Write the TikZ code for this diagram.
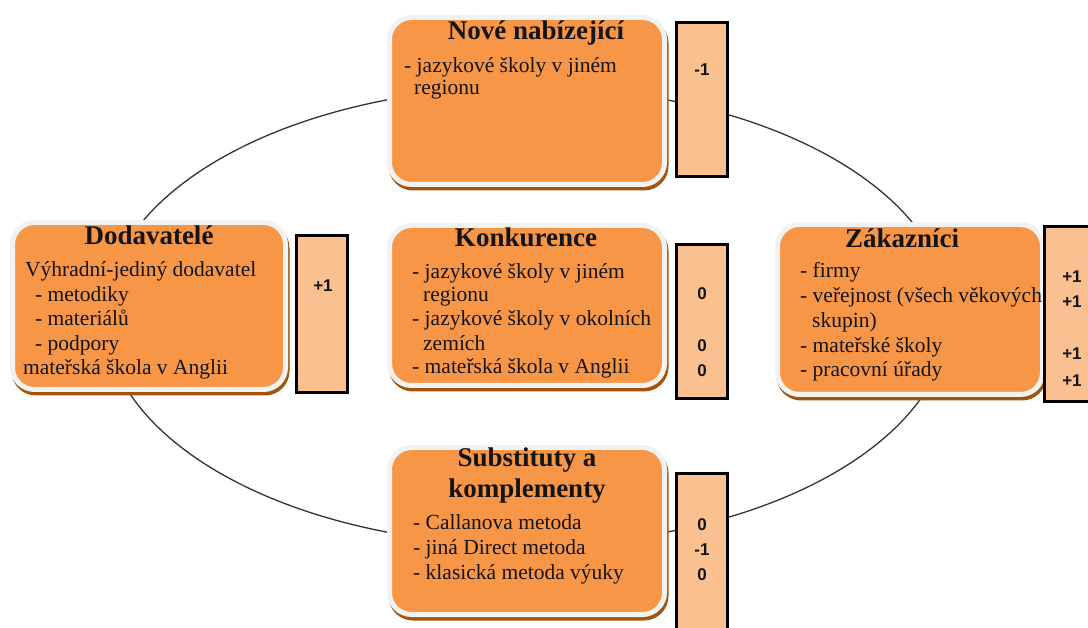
\documentclass[tikz,border=0pt]{standalone}
\usepackage{fontspec}
\setmainfont{Liberation Serif}
\newfontfamily\scorefont{Liberation Sans}

\definecolor{forceorange}{HTML}{F79646}
\definecolor{scorefill}{HTML}{FAC090}
\definecolor{rimgray}{HTML}{F2F2F2}
\definecolor{shadowbrown}{HTML}{A3540C}
\definecolor{inkdark}{HTML}{141414}

% multi-line text nodes below are anchored at the baseline of their last line
\tikzset{
  forcebox/.style={rectangle, rounded corners=22pt, fill=forceorange, draw=rimgray,
    line width=5pt, inner sep=0pt,
    preaction={fill=shadowbrown, draw=shadowbrown, line width=5pt,
      transform canvas={xshift=1.5pt, yshift=-3.5pt}}},
  scorebox/.style={rectangle, fill=scorefill, draw=black, line width=3pt, inner sep=0pt},
  forcetitle/.style={font=\fontsize{27}{31}\selectfont\bfseries, text=inkdark,
    inner sep=0pt, anchor=base, align=center},
  forcebody/.style={font=\fontsize{21.5}{24.5}\selectfont, text=inkdark,
    inner sep=0pt, anchor=base west, align=left},
  scoreval/.style={font=\scorefont\bfseries\fontsize{17}{17}\selectfont,
    text=inkdark, inner sep=0pt, anchor=base},
  ring/.style={draw=black!80, line width=1.3pt},
}

\begin{document}
\begin{tikzpicture}[x=1pt, y=-1pt]
  \clip (0,0) rectangle (1088,628);
  \fill[white] (0,0) rectangle (1088,628);

  % ring linking the five forces
  \draw[ring] (527,316) ellipse [x radius=422pt, y radius=229pt];

  % force boxes
  \node[forcebox, minimum width=275pt, minimum height=167pt] (newbox)  at (527,101)   {};
  \node[forcebox, minimum width=273pt, minimum height=167pt] (supbox)  at (149,306)   {};
  \node[forcebox, minimum width=275pt, minimum height=160pt] (compbox) at (527,305.5) {};
  \node[forcebox, minimum width=265pt, minimum height=170pt] (custbox) at (910,309.5) {};
  \node[forcebox, minimum width=275pt, minimum height=167pt] (subbox)  at (527,531)   {};

  % score boxes
  \node[scorebox, minimum width=51pt, minimum height=154pt] (newscore)  at (702,99.5)  {};
  \node[scorebox, minimum width=51pt, minimum height=157pt] (supscore)  at (322,314)   {};
  \node[scorebox, minimum width=51pt, minimum height=154pt] (compscore) at (702,321.5) {};
  \node[scorebox, minimum width=56pt, minimum height=175pt] (custscore) at (1072,314)  {};
  \node[scorebox, minimum width=51pt, minimum height=177pt] (subscore)  at (702,562)   {};

  % new entrants
  \node[forcetitle] (newtitle) at (536,40) {Nové nabízející};
  \node[forcebody, font=\fontsize{21.5}{22}\selectfont] (newtext) at (404,95)
    {- jazykové školy v jiném\\\hspace*{10pt}regionu};

  % suppliers
  \node[forcetitle] (suptitle) at (149,245) {Dodavatelé};
  \node[forcebody] (suptext) at (25,375)
    {Výhradní-jediný dodavatel\\\hspace*{10pt}- metodiky\\\hspace*{10pt}- materiálů\\%
     \hspace*{10pt}- podpory\\\hspace*{-2pt}mateřská škola v Anglii};

  % competition
  \node[forcetitle] (comptitle) at (526,247) {Konkurence};
  \node[forcebody, font=\fontsize{21.5}{24}\selectfont] (comptext) at (412,374)
    {- jazykové školy v jiném\\\hspace*{11pt}regionu\\- jazykové školy v okolních\\%
     \hspace*{11pt}zemích\\- mateřská škola v Anglii};

  % customers
  \node[forcetitle] (custtitle) at (902,248) {Zákazníci};
  \node[forcebody, font=\fontsize{21.5}{24.75}\selectfont] (custtext) at (800,377)
    {- firmy\\- veřejnost (všech věkových\\\hspace*{12pt}skupin)\\- mateřské školy\\%
     - pracovní úřady};

  % substitutes
  \node[forcetitle] (subtitle) at (527,497) {Substituty a\\komplementy};
  \node[forcebody, font=\fontsize{21.5}{25}\selectfont] (subtext) at (413,579)
    {- Callanova metoda\\- jiná Direct metoda\\- klasická metoda výuky};

  % scores
  \node[scoreval] (newval) at (702,76) {-1};
  \node[scoreval] (supval) at (323,292) {+1};
  \node[scoreval] (compvala) at (702,300) {0};
  \node[scoreval] (compvalb) at (702,352) {0};
  \node[scoreval] (compvalc) at (702,377) {0};
  \node[scoreval] (custvala) at (1072,283) {+1};
  \node[scoreval] (custvalb) at (1072,308) {+1};
  \node[scoreval] (custvalc) at (1072,360) {+1};
  \node[scoreval] (custvald) at (1072,387) {+1};
  \node[scoreval] (subvala) at (702,530) {0};
  \node[scoreval] (subvalb) at (702,555) {-1};
  \node[scoreval] (subvalc) at (702,580) {0};
\end{tikzpicture}
\end{document}
